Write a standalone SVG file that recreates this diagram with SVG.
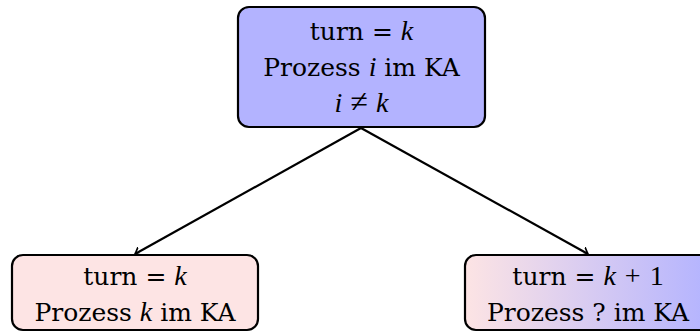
<svg xmlns="http://www.w3.org/2000/svg" width="700" height="333" viewBox="0 0 700 333">
  <defs>
    <linearGradient id="gradPinkBlue" x1="0" y1="0" x2="1" y2="0">
      <stop offset="0" stop-color="#fde4e4"/>
      <stop offset="1" stop-color="#b3b3ff"/>
    </linearGradient>
    <marker id="arrowTo" viewBox="-6 -5 8 10" markerWidth="8" markerHeight="10" refX="0" refY="0" orient="auto" markerUnits="userSpaceOnUse">
      <path d="M -5.5 -4.2 Q -1.5 -1 0 0 Q -1.5 1 -5.5 4.2" fill="none" stroke="#000" stroke-width="1.6" stroke-linecap="round"/>
    </marker>
    <style>
      .box { stroke: #000; stroke-width: 2.2; }
      .txt { font-family: "DejaVu Serif", "Liberation Serif", serif; font-size: 25px; fill: #000; text-anchor: middle; }
      .m { font-family: "Liberation Serif", serif; font-style: italic; font-size: 28px; }
      .mr { font-family: "Liberation Serif", serif; font-size: 28px; }
      .op { font-family: "Liberation Serif", serif; font-size: 32px; }
      .edge { stroke: #000; stroke-width: 2.2; fill: none; marker-end: url(#arrowTo); }
    </style>
  </defs>

  <g id="connectors">
    <line class="edge" x1="361" y1="128" x2="135" y2="254"/>
    <line class="edge" x1="361" y1="128" x2="588" y2="254"/>
  </g>

  <g id="nodeTop">
    <rect class="box" x="238" y="7" width="247" height="120" rx="11" fill="#b3b3ff"/>
    <text class="txt" x="361.5" y="40">turn = <tspan class="m">k</tspan></text>
    <text class="txt" x="361.5" y="76">Prozess <tspan class="m">i</tspan> im KA</text>
    <text class="txt" x="361.5" y="112"><tspan class="m">i</tspan><tspan class="op" dx="8">≠</tspan><tspan class="m" dx="8">k</tspan></text>
  </g>

  <g id="nodeLeft">
    <rect class="box" x="12" y="255" width="246" height="75" rx="11" fill="#fde4e4"/>
    <text class="txt" x="135" y="285">turn = <tspan class="m">k</tspan></text>
    <text class="txt" x="135" y="321">Prozess <tspan class="m">k</tspan> im KA</text>
  </g>

  <g id="nodeRight">
    <rect class="box" x="465" y="255" width="246" height="75" rx="11" fill="url(#gradPinkBlue)"/>
    <text class="txt" x="588" y="285">turn = <tspan class="m">k</tspan><tspan class="mr" dx="9">+</tspan><tspan class="mr" dx="9">1</tspan></text>
    <text class="txt" x="588" y="321">Prozess ? im KA</text>
  </g>
</svg>
